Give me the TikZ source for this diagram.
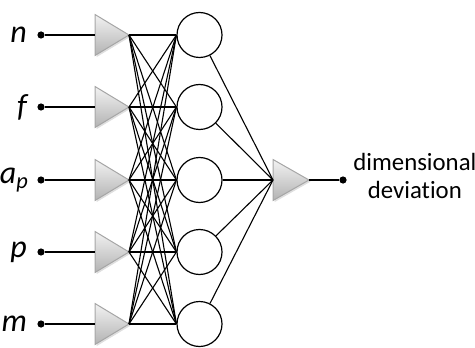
\documentclass[tikz,border=0pt]{standalone}
\usepackage{fontspec}
\setmainfont{Carlito}[Ligatures=NoCommon]
\usetikzlibrary{positioning,shadows}
\tikzset{
  amp/.style={draw=gray!70, line width=0.5pt, top color=gray!10, bottom color=gray!60,
              drop shadow={shadow xshift=0.8pt, shadow yshift=-0.8pt, opacity=0.25}},
  hid/.style={circle, draw, line width=0.6pt, minimum size=22.5pt, inner sep=0pt},
  dot/.style={circle, fill, inner sep=0pt, minimum size=3.6pt},
  wire/.style={line width=0.55pt},
  inlab/.style={font=\fontsize{16}{18}\selectfont\itshape},
  outlab/.style={font=\fontsize{12.4}{14}\selectfont, align=center, inner sep=1pt},
}
\begin{document}
\begin{tikzpicture}[x=0.5pt,y=-0.5pt]
  \useasboundingbox (0,0) rectangle (475,347);
  % input layer
  \node[dot] (d1) at (41,35) {};
  \node[dot] (d2) at (41,107) {};
  \node[dot] (d3) at (41,180) {};
  \node[dot] (d4) at (41,252) {};
  \node[dot] (d5) at (41,324) {};
  \node[inlab, left=1.5pt of d1] (l1) {n};
  \node[inlab, left=1.5pt of d2] (l2) {f};
  \node[inlab, left=0.5pt of d3] (l3) {a\textsubscript{p}};
  \node[inlab, left=1.5pt of d4] (l4) {p};
  \node[inlab, left=1.5pt of d5] (l5) {m};
  \foreach \i/\y in {1/35,2/107,3/180,4/252,5/324}{
    \path[amp] (95,{\y-20.5}) -- (129,\y) -- (95,{\y+20.5}) -- cycle;
    \coordinate (a\i) at (95,\y);
    \coordinate (t\i) at (129,\y);
    \node[hid] (h\i) at (199.5,\y) {};
    \draw[wire] (d\i) -- (a\i);
  }
  % all connections to the hidden layer
  \foreach \i in {1,...,5}
    \foreach \j in {1,...,5}
      \draw[wire] (t\i) -- (h\j.west);
  % output
  \path[amp] (273,159.5) -- (309,180) -- (273,200.5) -- cycle;
  \coordinate (o) at (273,180);
  \coordinate (ot) at (309,180);
  \foreach \j in {1,...,5}
    \draw[wire] (h\j) -- (o);
  \node[dot] (od) at (343,180) {};
  \draw[wire] (ot) -- (od);
  \node[outlab, right=2pt of od, yshift=2pt] (ol) {dimensional\\deviation};
\end{tikzpicture}
\end{document}
